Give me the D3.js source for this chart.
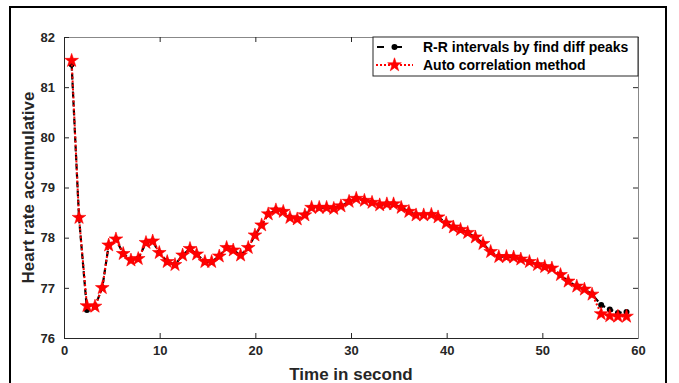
<!DOCTYPE html>
<html>
<head>
<meta charset="utf-8">
<script src="https://cdn.jsdelivr.net/npm/d3@7"></script>
<style>
  body { margin: 0; background: #fff; }
  svg { display: block; font-family: "Liberation Sans", Arial, sans-serif; }
  .tick text { font-weight: bold; font-size: 13px; fill: #262626; }
</style>
</head>
<body>
<svg width="679" height="383"></svg>
<script>
// time stamps (s)
const times = [0.8, 1.57, 2.4, 3.24, 4.0, 4.67, 5.43, 6.19, 7.0, 7.76, 8.57, 9.27, 9.96, 10.79,
  11.6, 12.4, 13.17, 13.87, 14.73, 15.43, 16.23, 17.0, 17.69, 18.46, 19.26, 19.96, 20.66, 21.35,
  22.15, 22.92, 23.62, 24.38, 25.18, 25.88, 26.68, 27.45, 28.2, 28.95, 29.8, 30.55, 31.4, 32.2,
  33.0, 33.75, 34.45, 35.25, 36.05, 36.8, 37.6, 38.4, 39.1, 39.95, 40.7, 41.45, 42.2, 43.0, 43.8,
  44.6, 45.45, 46.25, 47.0, 47.75, 48.65, 49.5, 50.25, 51.0, 51.9, 52.7, 53.6, 54.4, 55.2,
  56.15, 57.05, 57.9, 58.8];

// R-R intervals by find diff peaks
const rrValues = [81.45, 78.4, 76.56, 76.63, 77.0, 77.85, 77.97, 77.68, 77.55, 77.58, 77.9, 77.93,
  77.7, 77.52, 77.46, 77.65, 77.78, 77.67, 77.52, 77.52, 77.63, 77.8, 77.75, 77.65, 77.8, 78.05,
  78.25, 78.47, 78.55, 78.52, 78.4, 78.37, 78.45, 78.6, 78.6, 78.6, 78.58, 78.63, 78.72, 78.78,
  78.74, 78.7, 78.65, 78.67, 78.67, 78.6, 78.52, 78.45, 78.45, 78.46, 78.41, 78.29, 78.21, 78.16,
  78.1, 78.01, 77.88, 77.72, 77.62, 77.62, 77.61, 77.57, 77.52, 77.46, 77.42, 77.39, 77.26, 77.13,
  77.03, 76.97, 76.87, 76.66, 76.57, 76.5, 76.52];

// Auto correlation method
const acValues = [81.53, 78.4, 76.64, 76.63, 77.0, 77.85, 77.97, 77.68, 77.55, 77.58, 77.9, 77.93,
  77.7, 77.52, 77.46, 77.65, 77.78, 77.67, 77.52, 77.52, 77.63, 77.8, 77.75, 77.65, 77.8, 78.05,
  78.25, 78.47, 78.55, 78.52, 78.4, 78.37, 78.45, 78.6, 78.6, 78.6, 78.58, 78.63, 78.72, 78.78,
  78.74, 78.7, 78.65, 78.67, 78.67, 78.6, 78.52, 78.45, 78.45, 78.46, 78.41, 78.29, 78.21, 78.16,
  78.1, 78.01, 77.88, 77.72, 77.62, 77.62, 77.61, 77.57, 77.52, 77.46, 77.42, 77.39, 77.26, 77.13,
  77.03, 76.97, 76.87, 76.48, 76.44, 76.43, 76.43];

const xTicks = [0, 10, 20, 30, 40, 50, 60];
const yTicks = [76, 77, 78, 79, 80, 81, 82];
const legendLabels = ["R-R intervals by find diff peaks", "Auto correlation method"];

const svg = d3.select("svg");

// outer frame of the figure
svg.append("rect")
  .attr("x", 10).attr("y", 7).attr("width", 656).attr("height", 400)
  .attr("fill", "none").attr("stroke", "#000").attr("stroke-width", 2);

const pLeft = 64, pRight = 638, pTop = 37, pBottom = 338;
const x = d3.scaleLinear().domain([0, 60]).range([pLeft, pRight]);
const y = d3.scaleLinear().domain([76, 82]).range([pBottom, pTop]);

// axes, ticks pointing inward
const axisColor = "#262626";
const fmt = d3.format("d");
const xAxis = svg.append("g").attr("transform", `translate(0,${pBottom})`)
  .call(d3.axisBottom(x).tickValues(xTicks).tickFormat(fmt).tickSizeInner(-5).tickSizeOuter(0).tickPadding(8));
const xTop = svg.append("g").attr("transform", `translate(0,${pTop})`)
  .call(d3.axisTop(x).tickValues(xTicks).tickSizeInner(-5).tickSizeOuter(0).tickFormat(""));
const yAxis = svg.append("g").attr("transform", `translate(${pLeft},0)`)
  .call(d3.axisLeft(y).tickValues(yTicks).tickFormat(fmt).tickSizeInner(-5).tickSizeOuter(0).tickPadding(9));
const yRight = svg.append("g").attr("transform", `translate(${pRight},0)`)
  .call(d3.axisRight(y).tickValues(yTicks).tickSizeInner(-5).tickSizeOuter(0).tickFormat(""));

[xAxis, xTop, yAxis, yRight].forEach(g => {
  g.select(".domain").attr("stroke", axisColor);
  g.selectAll(".tick line").attr("stroke", axisColor);
});
xTop.select(".domain").attr("stroke", "#888");
yRight.select(".domain").attr("stroke", "#888");

svg.append("text")
  .attr("x", (pLeft + pRight) / 2).attr("y", 380)
  .attr("text-anchor", "middle")
  .attr("font-size", 17).attr("font-weight", "bold").attr("fill", "#262626")
  .text("Time in second");

svg.append("text")
  .attr("transform", `translate(34,${(pTop + pBottom) / 2}) rotate(-90)`)
  .attr("text-anchor", "middle")
  .attr("font-size", 17).attr("font-weight", "bold").attr("fill", "#262626")
  .text("Heart rate accumulative");

const rrData = times.map((t, i) => ({ t: t, v: rrValues[i] }));
const acData = times.map((t, i) => ({ t: t, v: acValues[i] }));

const line = d3.line().x(d => x(d.t)).y(d => y(d.v));
const star = d3.symbol().type(d3.symbolStar).size(58);

// black dashed series with dots
svg.append("path").datum(rrData)
  .attr("d", line).attr("fill", "none")
  .attr("stroke", "#000").attr("stroke-width", 2.2).attr("stroke-dasharray", "6,3");
svg.selectAll(".rr").data(rrData).enter().append("circle")
  .attr("class", "rr")
  .attr("cx", d => x(d.t)).attr("cy", d => y(d.v)).attr("r", 3)
  .attr("fill", "#000");

// red dotted series with stars
svg.append("path").datum(acData)
  .attr("d", line).attr("fill", "none")
  .attr("stroke", "#f00").attr("stroke-width", 2).attr("stroke-dasharray", "2,2");
svg.selectAll(".ac").data(acData).enter().append("path")
  .attr("class", "ac")
  .attr("transform", d => `translate(${x(d.t)},${y(d.v)})`)
  .attr("d", star).attr("fill", "#f00").attr("stroke", "#f00").attr("stroke-width", 0.6);

// legend
const lg = svg.append("g");
lg.append("rect")
  .attr("x", 373).attr("y", pTop).attr("width", pRight - 373).attr("height", 39)
  .attr("fill", "#fff").attr("stroke", axisColor).attr("stroke-width", 1);

lg.append("line")
  .attr("x1", 377).attr("x2", 412).attr("y1", 47).attr("y2", 47)
  .attr("stroke", "#000").attr("stroke-width", 2.2).attr("stroke-dasharray", "7,11");
lg.append("circle").attr("cx", 394.5).attr("cy", 47).attr("r", 3).attr("fill", "#000");

lg.append("line")
  .attr("x1", 376).attr("x2", 413).attr("y1", 65).attr("y2", 65)
  .attr("stroke", "#f00").attr("stroke-width", 2).attr("stroke-dasharray", "2,2");
lg.append("path").attr("transform", "translate(394.5,65)")
  .attr("d", star).attr("fill", "#f00").attr("stroke", "#f00").attr("stroke-width", 0.6);

lg.selectAll(".lgt").data(legendLabels).enter().append("text")
  .attr("x", 423).attr("y", (d, i) => 52 + i * 18)
  .attr("font-size", 14).attr("font-weight", "bold").attr("fill", "#000")
  .text(d => d);
</script>
</body>
</html>
